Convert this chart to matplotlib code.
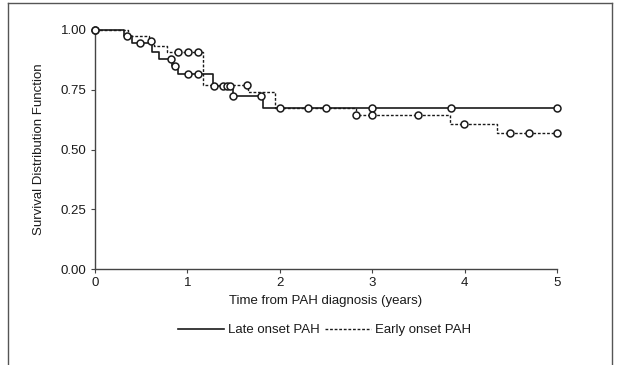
import numpy as np
import matplotlib
matplotlib.use("Agg")
import matplotlib.pyplot as plt
from matplotlib.lines import Line2D

plt.rcParams['font.family'] = ['Liberation Sans', 'DejaVu Sans']

# ---- data ----
late_t = [0, 0.31, 0.40, 0.62, 0.69, 0.83, 0.90, 1.28, 1.49, 1.82, 5.0]
late_s = [1.0, 0.975, 0.944, 0.908, 0.879, 0.849, 0.816, 0.766, 0.725, 0.674, 0.674]
late_cens = [0, 0.35, 0.49, 0.82, 0.87, 1.01, 1.11, 1.29, 1.38, 1.43, 1.46, 1.49,
             1.80, 2.31, 2.50, 3.0, 3.85, 5.0]

early_t = [0, 0.36, 0.58, 0.64, 0.78, 1.17, 1.66, 1.95, 2.82, 3.84, 4.35, 5.0]
early_s = [1.0, 0.975, 0.955, 0.935, 0.908, 0.77, 0.74, 0.674, 0.645, 0.607, 0.568, 0.568]
early_cens = [0, 0.61, 0.90, 1.01, 1.11, 1.64, 2.0, 2.82, 3.0, 3.5, 3.99, 4.49, 4.70, 5.0]

xticks = [0, 1, 2, 3, 4, 5]
yticks = [0.0, 0.25, 0.50, 0.75, 1.00]
ytick_labels = ["0.00", "0.25", "0.50", "0.75", "1.00"]
series_names = ["Late onset PAH", "Early onset PAH"]


def surv_at(times, levels, t):
    idx = np.searchsorted(np.asarray(times), t, side='right') - 1
    return np.asarray(levels)[idx]


fig = plt.figure(figsize=(6.21, 3.65), dpi=100)
ax = fig.add_axes([95 / 621, 1 - 269 / 365, 462 / 621, 239 / 365])

ink = '#1a1a1a'
fs = 9.5
solid_style = dict(color=ink, lw=1.2, linestyle='-')
dash_style = dict(color=ink, lw=1.0, linestyle=(0, (2.0, 1.3)))

ax.step(late_t, late_s, where='post', clip_on=False, **solid_style)
ax.step(early_t, early_s, where='post', clip_on=False, **dash_style)

mk = dict(marker='o', ms=5.0, mfc='white', mec=ink, mew=1.1, linestyle='none',
          clip_on=False, zorder=3)
ax.plot(late_cens, surv_at(late_t, late_s, late_cens), **mk)
ax.plot(early_cens, surv_at(early_t, early_s, early_cens), **mk)

ax.set_xlim(0, 5)
ax.set_ylim(0, 1)
ax.set_xticks(xticks)
ax.set_xticklabels([str(x) for x in xticks])
ax.set_yticks(yticks)
ax.set_yticklabels(ytick_labels)

for s in ['top', 'right']:
    ax.spines[s].set_visible(False)
for s in ['left', 'bottom']:
    ax.spines[s].set_color('#444444')
    ax.spines[s].set_linewidth(1.0)
ax.tick_params(axis='both', length=3, width=0.8, color='#444444',
               labelsize=fs, labelcolor=ink, pad=3)

ax.set_xlabel("Time from PAH diagnosis (years)", fontsize=fs, color=ink)
ax.set_ylabel("Survival Distribution Function", fontsize=fs, color=ink)
ax.xaxis.set_label_coords(0.5, -0.108)
ax.yaxis.set_label_coords(-0.108, 0.5)

handles = [Line2D([], [], **solid_style), Line2D([], [], **dash_style)]
fig.legend(handles, series_names, loc='center', bbox_to_anchor=(0.5225, 1 - 330 / 365),
           ncol=2, frameon=False, fontsize=fs, handlelength=3.5, handletextpad=0.3,
           columnspacing=0.35, labelcolor=ink)

# outer frame (open at bottom)
fc = '#555555'
fig.add_artist(Line2D([8 / 621, 8 / 621], [0, 1 - 3 / 365], color=fc, lw=1.0,
                      transform=fig.transFigure))
fig.add_artist(Line2D([8 / 621, 612 / 621], [1 - 3 / 365, 1 - 3 / 365], color=fc, lw=1.0,
                      transform=fig.transFigure))
fig.add_artist(Line2D([612 / 621, 612 / 621], [0, 1 - 3 / 365], color=fc, lw=1.0,
                      transform=fig.transFigure))

fig.savefig("out.png", dpi=100)
